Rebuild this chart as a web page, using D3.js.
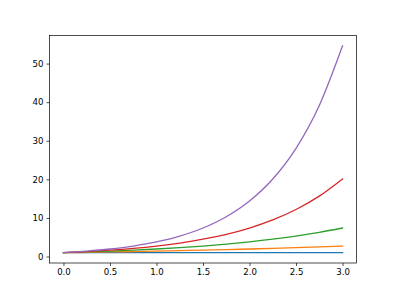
<!DOCTYPE html>
<html><head><meta charset="utf-8">
<script src="https://cdn.jsdelivr.net/npm/d3@7"></script>
<style>body{margin:0;background:#fff}svg{display:block}</style>
</head><body>
<svg id="c" width="396" height="296"></svg>
<script>
const xs = [0,0.25,0.5,0.75,1,1.25,1.5,1.75,2,2.25,2.5,2.75,3];
const s0 = [1,1,1,1,1,1,1,1,1,1,1,1,1];
const s1 = [1,1.087,1.181,1.284,1.396,1.517,1.649,1.792,1.948,2.117,2.301,2.501,2.718];
const s2 = [1,1.181,1.396,1.649,1.948,2.301,2.718,3.211,3.794,4.482,5.294,6.254,7.389];
const s3 = [1,1.284,1.649,2.117,2.718,3.490,4.482,5.755,7.389,9.488,12.182,15.643,20.086];
const s4 = [1,1.396,1.948,2.718,3.794,5.294,7.389,10.312,14.392,20.086,28.03,39.12,54.60];
const seriesList = [s0,s1,s2,s3,s4];
const colors = ["#1f77b4","#ff7f0e","#2ca02c","#d62728","#9467bd"];
const xTicks = [0,0.5,1,1.5,2,2.5,3];
const yTicks = [0,10,20,30,40,50];

const L=49.5, R=356.5, T=35.5, B=263;
const svg = d3.select("#c");
const xmin=0,xmax=3, xpad=(xmax-xmin)*0.05;
const ymin=1,ymax=54.6, ypad=(ymax-ymin)*0.05;
const x = d3.scaleLinear().domain([xmin-xpad,xmax+xpad]).range([L,R]);
const y = d3.scaleLinear().domain([ymin-ypad,ymax+ypad]).range([B,T]);

const g = svg.append("g");
const line = d3.line().x((d,i)=>x(xs[i])).y(d=>y(d)).curve(d3.curveMonotoneX);
seriesList.forEach((s,i)=>{
  g.append("path").attr("d",line(s)).attr("fill","none").attr("stroke",colors[i]).attr("stroke-width",1.3).attr("stroke-linejoin","round").attr("stroke-linecap","square");
});

const xa = svg.append("g").attr("transform",`translate(0,${B})`)
  .call(d3.axisBottom(x).tickValues(xTicks).tickFormat(d3.format(".1f")).tickSize(3).tickPadding(3).tickSizeOuter(0));
const ya = svg.append("g").attr("transform",`translate(${L},0)`)
  .call(d3.axisLeft(y).tickValues(yTicks).tickFormat(d3.format("d")).tickSize(3).tickPadding(3).tickSizeOuter(0));
[xa,ya].forEach(a=>{
  a.select(".domain").remove();
  a.selectAll("text").attr("font-family","DejaVu Sans").attr("font-size","8.6px").attr("fill","#000");
  a.selectAll("line").attr("stroke","#000").attr("stroke-width",0.7);
});
svg.append("rect").attr("x",L).attr("y",T).attr("width",R-L).attr("height",B-T)
  .attr("fill","none").attr("stroke","#000").attr("stroke-width",0.7);
</script>
</body></html>
